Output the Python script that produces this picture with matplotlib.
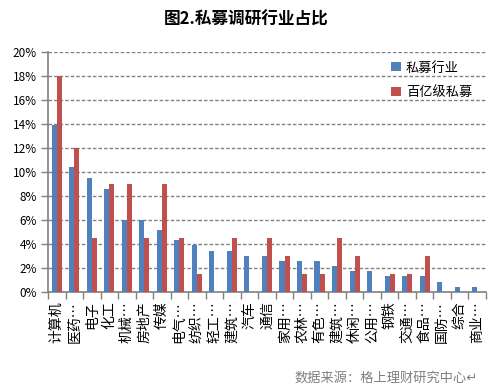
import numpy as np
import matplotlib.pyplot as plt

plt.rcParams['font.family'] = ['Noto Sans CJK SC', 'DejaVu Sans']

industries = ['计算机', '医药…', '电子', '化工', '机械…', '房地产', '传媒', '电气…',
              '纺织…', '轻工…', '建筑…', '汽车', '通信', '家用…', '农林…', '有色…',
              '建筑…', '休闲…', '公用…', '钢铁', '交通…', '食品…', '国防…', '综合', '商业…']
private_all = [13.9, 10.4, 9.5, 8.6, 6.0, 6.0, 5.2, 4.35, 3.9, 3.45, 3.45, 3.0, 3.0,
               2.6, 2.6, 2.6, 2.2, 1.75, 1.75, 1.3, 1.3, 1.3, 0.87, 0.43, 0.43]
private_top = [18.0, 12.0, 4.5, 9.0, 9.0, 4.5, 9.0, 4.5, 1.5, 0, 4.5, 0, 4.5,
               3.0, 1.5, 1.5, 4.5, 3.0, 0, 1.5, 1.5, 3.0, 0, 0, 0]
yticks = [0, 2, 4, 6, 8, 10, 12, 14, 16, 18, 20]

fig = plt.figure(figsize=(4.92, 3.90), dpi=100)
ax = fig.add_axes([48/492, 1 - 292/390, 438/492, 240/390])

x = np.arange(len(industries))
w = 0.29
ax.bar(x - w/2, private_all, w, color='#4F81BD', label='私募行业', zorder=3)
ax.bar(x + w/2, private_top, w, color='#C0504D', label='百亿级私募', zorder=3)

ax.set_xlim(-0.5, len(industries) - 0.5)
ax.set_ylim(0, 20)
ax.set_yticks(yticks)
ax.set_yticklabels([f'{v}%' for v in yticks], fontsize=8.5)
ax.yaxis.grid(True, linestyle=(0, (2.5, 1.5)), color='#808080', linewidth=1, zorder=0)

ax.set_xticks(x)
ax.set_xticklabels(industries, rotation=90, fontsize=10, va='top', ha='center')
ax.set_xticks(np.arange(len(industries) + 1) - 0.5, minor=True)
ax.tick_params(axis='x', which='major', length=0, pad=7)
ax.tick_params(axis='x', which='minor', length=5, color='#808080', width=1)
ax.tick_params(axis='y', length=5, color='#808080', width=1, pad=3)

for s in ['top', 'right']:
    ax.spines[s].set_visible(False)
for s in ['left', 'bottom']:
    ax.spines[s].set_color('#808080')
    ax.spines[s].set_linewidth(1.2)

ax.legend(loc='upper left', bbox_to_anchor=(0.757, 1.01), frameon=False, fontsize=9.5,
          handlelength=0.7, handleheight=0.7, handletextpad=0.4, labelspacing=0.9)

fig.text(0.5, 1 - 20/390, '图2.私募调研行业占比', ha='center', va='center',
         fontsize=12, fontweight='bold')
fig.text(478/492, 1 - 378/390, '数据来源：格上理财研究中心↵', ha='right', va='center',
         fontsize=9.5, color='#808080')

fig.savefig('out.png', dpi=100)
